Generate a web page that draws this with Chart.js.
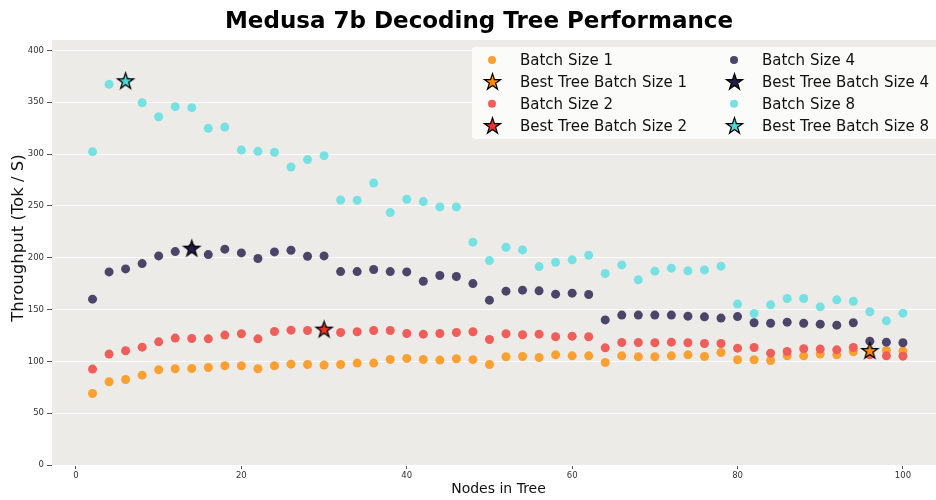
<!DOCTYPE html>
<html><head><meta charset="utf-8">
<script src="https://cdn.jsdelivr.net/npm/chart.js@4.4.1/dist/chart.umd.min.js"></script>
<style>html,body{margin:0;padding:0;background:#fff;}canvas{display:block;}</style>
</head><body>
<canvas id="c" width="936" height="500"></canvas>
<script>
const nodes = [2,4,6,8,10,12,14,16,18,20,22,24,26,28,30,32,34,36,38,40,42,44,46,48,50,52,54,56,58,60,62,64,66,68,70,72,74,76,78,80,82,84,86,88,90,92,94,96,98,100];
const bs1 = [69,80.3,82.5,86.7,91.9,92.8,93.1,94.1,95.7,95.7,92.8,95.7,97.3,97,96.4,97,98.3,98.3,101.8,102.8,101.8,101.2,102.5,101.6,97,104.4,104.7,103.7,106.3,105.3,105.3,98.9,105.3,104.4,104.4,105.3,106.3,104.7,108.5,101.5,101.5,100.8,105.3,105.3,107,106.3,109.2,110.5,110.5,109.9];
const bs2 = [92.5,107,110.2,113.7,118.8,122.4,122,121.7,125.3,126.6,121.7,128.8,130.1,129.8,131.1,127.8,128.5,129.8,129.8,126.9,126.2,126.9,127.8,128.5,121.1,126.6,125.6,126.2,123.7,124.3,123.7,113,118.2,118.2,117.9,118.5,117.9,117.2,117.2,112.7,113.4,107.9,109.5,112.1,111.8,111.1,113.4,106.3,105.3,105];
const bs4 = [160,186.3,189.2,194.3,201.7,205.9,209.2,203,208.2,204.6,199.2,205.6,207.2,201.4,201.7,186.6,186.6,188.6,186.6,186.3,177.3,182.8,181.8,175,159,167.7,168.7,168,164.8,165.8,164.5,140,144.6,144.6,144.6,144.6,143.6,142.9,141.7,143.2,137.2,136.8,137.8,136.8,135.9,134.9,137.2,119.5,118.5,117.9];
const bs8 = [302.3,367.2,370.7,349.5,336,345.7,344.7,324.8,326,303.9,302.6,301.7,287.5,294.6,298.4,255.7,255.4,272,243.5,256.4,254.1,249,249,215,197.2,210.1,207.5,191.4,195.6,197.9,202.4,184.7,193,178.6,187,189.9,187.3,188.2,191.8,155.2,146.1,154.5,160.6,160.6,152.6,159.3,158,147.8,139.1,146.5];
const bestNodes = [96, 30, 14, 6];
const bestThroughput = [110.5, 131.1, 209.2, 370.7];
const seriesLabels = ['Batch Size 1','Batch Size 2','Batch Size 4','Batch Size 8'];
const bestLabels = ['Best Tree Batch Size 1','Best Tree Batch Size 2','Best Tree Batch Size 4','Best Tree Batch Size 8'];
const xTicks = [0,20,40,60,80,100];
const yTicks = [0,50,100,150,200,250,300,350,400];

const dotColors = ['#FCA032','#F05E5A','#4B4569','#76E1E3'];
const starColors = ['#FF8C00','#E8362E','#231C4A','#4ED6D8'];

function makeStar(fill, R) {
  const size = Math.ceil(R*2+4);
  const cv = document.createElement('canvas');
  cv.width = size; cv.height = size;
  const g = cv.getContext('2d');
  const cx = size/2, cy = size/2 + R*0.08, r = R*0.382;
  g.beginPath();
  for (let i = 0; i < 10; i++) {
    const rad = i % 2 === 0 ? R : r;
    const a = -Math.PI/2 + i*Math.PI/5;
    const px = cx + rad*Math.cos(a), py = cy + rad*Math.sin(a);
    if (i === 0) g.moveTo(px, py); else g.lineTo(px, py);
  }
  g.closePath();
  g.fillStyle = fill; g.fill();
  g.lineWidth = 1.2; g.strokeStyle = '#000'; g.lineJoin = 'miter'; g.stroke();
  return cv;
}
const starImgs = starColors.map(c => makeStar(c, 8.5));

const pts = arr => nodes.map((n,i)=>({x:n, y:arr[i]}));
const series = [bs1, bs2, bs4, bs8];

const datasets = [];
for (let k = 0; k < 4; k++) {
  datasets.push({label: bestLabels[k], data:[{x:bestNodes[k], y:bestThroughput[k]}],
    pointStyle: starImgs[k], backgroundColor: starColors[k], pointBorderWidth: 0, pointRadius: 8, kind:'star', idx:k});
}
for (let k = 3; k >= 0; k--) {
  datasets.push({label: seriesLabels[k], data: pts(series[k]), pointStyle:'circle',
    backgroundColor: dotColors[k], pointBackgroundColor: dotColors[k], pointBorderWidth: 0, borderWidth: 0, pointRadius: 4.5, kind:'dot', idx:k});
}

const bgPlugin = {
  id:'bg',
  beforeDraw(chart){
    const {ctx, chartArea:a} = chart;
    ctx.save();
    ctx.fillStyle = '#ffffff'; ctx.fillRect(0,0,chart.width,chart.height);
    ctx.fillStyle = '#EDEBE7'; ctx.fillRect(a.left, a.top, a.right-a.left, a.bottom-a.top);
    ctx.restore();
  },
  afterDraw(chart){
    const ctx = chart.ctx;
    ctx.save();
    ctx.fillStyle = '#000';
    ctx.font = 'bold 23px "DejaVu Sans"';
    ctx.textAlign = 'center'; ctx.textBaseline = 'alphabetic';
    ctx.fillText('Medusa 7b Decoding Tree Performance', 479, 28);
    ctx.fillStyle = '#111';
    ctx.font = '14px "DejaVu Sans"';
    ctx.textAlign = 'center'; ctx.textBaseline = 'middle';
    ctx.fillText('Nodes in Tree', 498.5, 489);
    ctx.save();
    ctx.translate(19, 238);
    ctx.rotate(-Math.PI/2);
    ctx.font = '16.5px "DejaVu Sans"';
    ctx.fillText('Throughput (Tok / S)', 0, 0);
    ctx.restore();
    const lx = 472, ly = 47, lw = 480, lh = 92;
    ctx.fillStyle = 'rgba(252,252,251,0.92)';
    ctx.beginPath();
    if (ctx.roundRect) ctx.roundRect(lx, ly, lw, lh, 3); else ctx.rect(lx, ly, lw, lh);
    ctx.fill();
    const order = [[0,'dot'],[0,'star'],[1,'dot'],[1,'star'],[2,'dot'],[2,'star'],[3,'dot'],[3,'star']];
    ctx.font = '15px "DejaVu Sans"';
    ctx.textAlign = 'left'; ctx.textBaseline = 'middle';
    order.forEach(([k, kind], i) => {
      const col = Math.floor(i/4), row = i % 4;
      const mx = col === 0 ? 492 : 734;
      const tx = col === 0 ? 520 : 762;
      const my = 60 + row*21.9;
      const ds = chart.data.datasets.find(d => d.kind === kind && d.idx === k);
      if (kind === 'dot') {
        ctx.fillStyle = ds.backgroundColor;
        ctx.beginPath(); ctx.arc(mx, my, 4, 0, Math.PI*2); ctx.fill();
      } else {
        const img = ds.pointStyle;
        ctx.drawImage(img, Math.round(mx - img.width/2), Math.round(my - img.height/2));
      }
      ctx.fillStyle = '#111';
      ctx.fillText(ds.label, tx, my + 1);
    });
    ctx.restore();
  }
};

new Chart(document.getElementById('c'), {
  type: 'scatter',
  data: { datasets },
  options: {
    responsive: false, animation: false, devicePixelRatio: 1,
    layout: { autoPadding: false, padding: { top: 40, right: 0, left: 0, bottom: 0 } },
    plugins: { legend: { display: false }, tooltip: { enabled: false }, title: { display: false } },
    scales: {
      x: {
        type: 'linear', min: -2.9, max: 104,
        afterBuildTicks: s => { s.ticks = xTicks.map(v => ({value: v})); },
        afterFit: s => { s.height = 35; },
        ticks: { autoSkip: false, maxRotation: 0, font: { family: 'DejaVu Sans', size: 8.5 }, color: '#333', padding: 2 },
        grid: { drawOnChartArea: false, drawTicks: true, tickLength: 4, tickColor: '#555' },
        border: { display: false },
        title: { display: false }
      },
      y: {
        min: 0, max: 410,
        afterBuildTicks: s => { s.ticks = yTicks.map(v => ({value: v})); },
        afterFit: s => { s.width = 52; },
        ticks: { autoSkip: false, font: { family: 'DejaVu Sans', size: 8.5 }, color: '#333', padding: 3 },
        grid: { color: '#ffffff', lineWidth: 1, drawTicks: true, tickLength: 5, tickColor: '#555' },
        border: { display: false },
        title: { display: false }
      }
    }
  },
  plugins: [bgPlugin]
});
</script>
</body></html>
